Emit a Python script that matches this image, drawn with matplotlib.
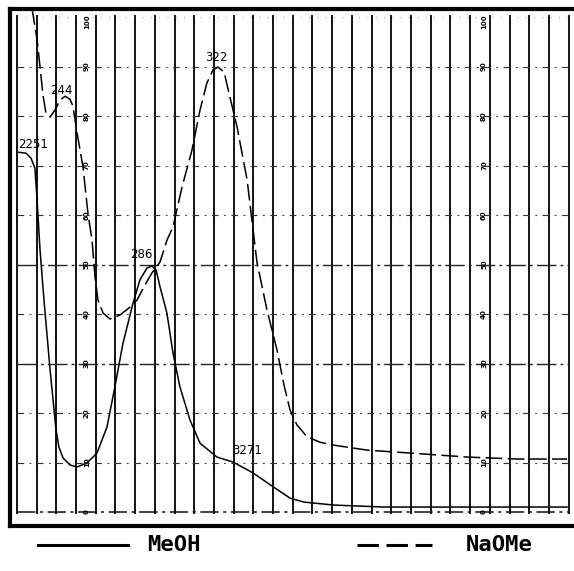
import numpy as np
import matplotlib
matplotlib.use("Agg")
import matplotlib.pyplot as plt
from matplotlib.lines import Line2D

# UV spectrum: wavelength (nm) vs absorbance
meoh_nm = [220.0, 224.6, 227.1, 229.1, 230.2, 231.7, 233.7, 236.8, 239.8, 241.3,
           243.4, 246.9, 250.5, 255.5, 260.6, 265.7, 269.7, 273.8, 278.9, 282.4,
           286.0, 288.5, 290.6, 292.6, 296.1, 299.2, 302.7, 307.8, 312.9, 321.5,
           329.6, 339.8, 350.0, 358.6, 365.7, 380.9, 406.3, 439.8, 499.2]
meoh_abs = [0.727, 0.725, 0.715, 0.695, 0.630, 0.529, 0.428, 0.287, 0.166, 0.131,
            0.109, 0.095, 0.091, 0.099, 0.119, 0.172, 0.253, 0.341, 0.422, 0.469,
            0.493, 0.497, 0.489, 0.455, 0.402, 0.321, 0.253, 0.186, 0.139, 0.111,
            0.101, 0.079, 0.051, 0.028, 0.020, 0.014, 0.010, 0.010, 0.010]

naome_nm = [227.6, 230.2, 231.7, 233.2, 234.7, 236.8, 239.3, 241.8, 244.4, 246.9,
            248.4, 250.5, 253.5, 256.0, 258.1, 259.6, 261.1, 263.7, 267.2, 272.3,
            277.4, 280.9, 285.0, 288.5, 292.6, 296.1, 299.2, 303.8, 308.8, 312.9,
            316.4, 319.5, 322.0, 325.1, 328.1, 331.7, 336.8, 341.8, 346.9, 352.0,
            355.5, 358.6, 362.1, 367.2, 373.8, 380.9, 397.7, 420.0, 448.4, 473.8, 499.2]
naome_abs = [1.018, 0.954, 0.899, 0.842, 0.806, 0.798, 0.812, 0.832, 0.840, 0.834,
             0.820, 0.766, 0.697, 0.604, 0.549, 0.475, 0.428, 0.402, 0.390, 0.398,
             0.414, 0.428, 0.459, 0.483, 0.505, 0.549, 0.576, 0.657, 0.731, 0.812,
             0.867, 0.893, 0.899, 0.889, 0.838, 0.778, 0.671, 0.505, 0.408, 0.327,
             0.257, 0.206, 0.176, 0.152, 0.141, 0.135, 0.125, 0.119, 0.111, 0.107, 0.107]

peak_labels = ["2251", "244", "286", "322", "3271"]
peak_x = [220.5, 236.8, 277.4, 315.4, 329.1]
peak_y = [0.729, 0.838, 0.507, 0.905, 0.111]

grid_nm = np.arange(220, 501, 10)
grid_abs = np.round(np.arange(0.0, 1.01, 0.1), 2)
scale_labels = ["0", "10", "20", "30", "40", "50", "60", "70", "80", "90", "100"]
scale_cols = [255.5, 457.1]

fig = plt.figure(figsize=(5.74, 5.71), dpi=100)
ax = fig.add_axes([0.01742, 0.0788, 0.98258, 0.9054])
ax.set_xlim(216.45, 502.74)
ax.set_ylim(-0.0283, 1.0162)

# chart paper grid
ax.vlines(grid_nm, -0.004, 1.004, color="black", lw=1.3)
for a in grid_abs:
    if a == 1.0:
        ax.hlines(a, 220, 500, color="#666666", lw=0.6, linestyles=(0, (1, 9)))
    elif a == 0.0:
        ax.hlines(a, 220, 500, color="#111111", lw=1.1, linestyles=(0, (12, 3, 2, 3)))
    elif a in (0.5, 0.3):
        ax.hlines(a, 220, 500, color="#222222", lw=1.0, linestyles=(0, (14, 3, 2, 3)))
    else:
        ax.hlines(a, 220, 500, color="#333333", lw=0.8, linestyles=(0, (6, 5, 1.5, 5)))

for cx in scale_cols:
    for a, s in zip(grid_abs, scale_labels):
        ax.text(cx, min(a, 0.99), s, rotation=90, ha="center", va="center",
                fontsize=5, fontweight="bold", color="black")

ax.plot(meoh_nm, meoh_abs, color="black", lw=1.1)
ln, = ax.plot(naome_nm, naome_abs, color="black", lw=1.1)
ln.set_dashes((11, 3.5))

for s, x, y in zip(peak_labels, peak_x, peak_y):
    ax.text(x, y, s, fontsize=8.5, ha="left", va="bottom", color="black")

ax.set_xticks([])
ax.set_yticks([])
for side in ["left", "top", "bottom"]:
    ax.spines[side].set_linewidth(3)
ax.spines["right"].set_visible(False)

# legend below the frame
fig.add_artist(Line2D([38 / 574, 128 / 574], [1 - 545 / 571] * 2, color="black", lw=2.2))
dl = Line2D([357 / 574, 432 / 574], [1 - 545 / 571] * 2, color="black", lw=2.2)
dl.set_dashes((7, 2.5))
fig.add_artist(dl)
fig.text(147 / 574, 1 - 545 / 571, "MeOH", fontsize=16, fontweight="bold",
         family="DejaVu Sans Mono", va="center", ha="left")
fig.text(466 / 574, 1 - 545 / 571, "NaOMe", fontsize=16, fontweight="bold",
         family="DejaVu Sans Mono", va="center", ha="left")

fig.savefig("out.png", dpi=100)
